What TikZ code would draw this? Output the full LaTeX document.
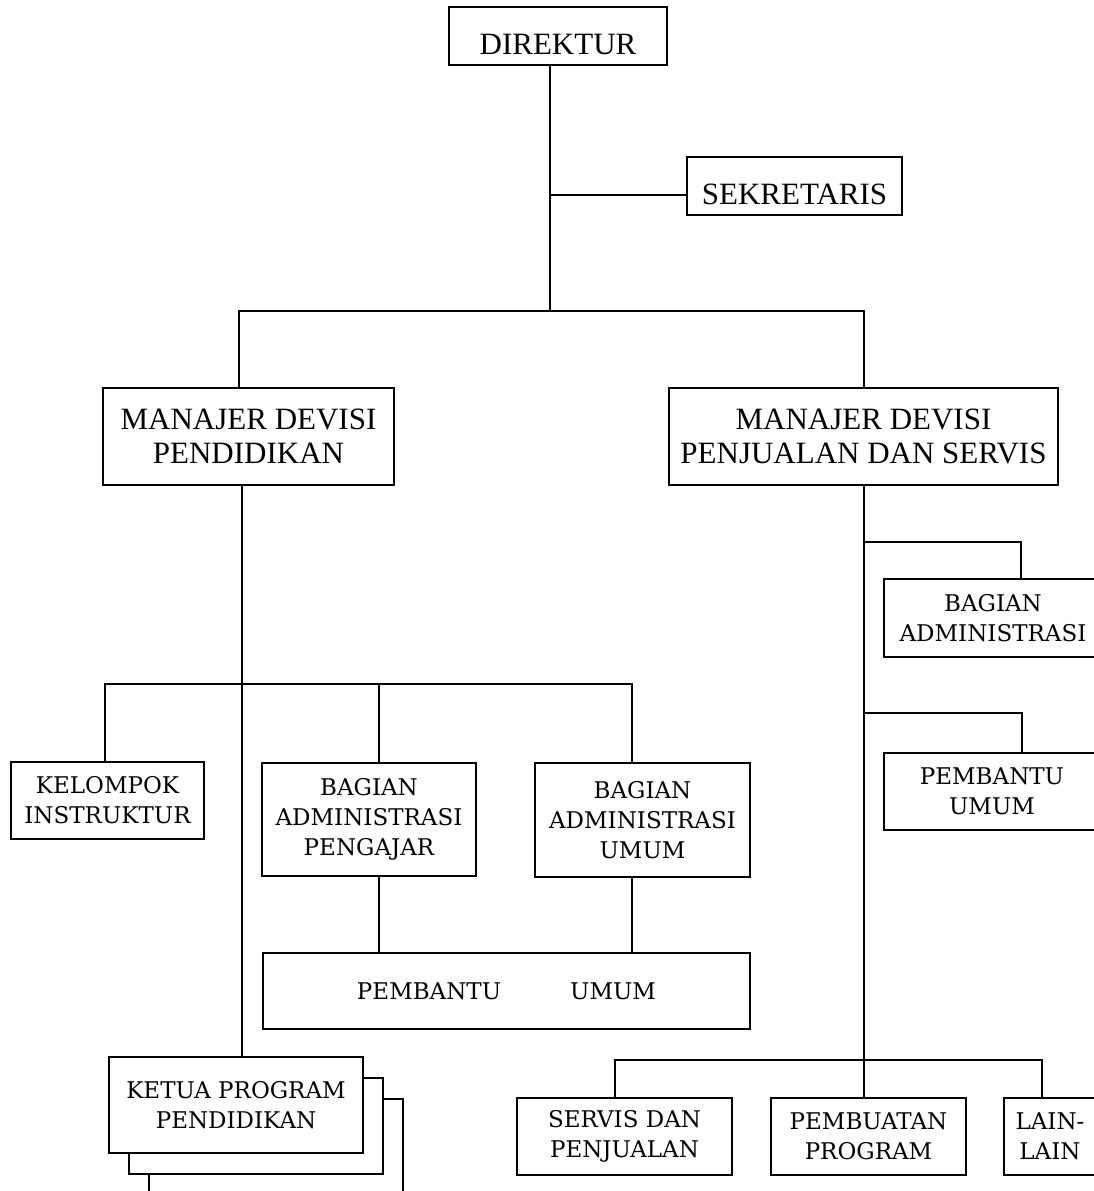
\documentclass[tikz,border=0pt]{standalone}
\usepackage{fontspec}
\setmainfont{Liberation Serif}
\newfontfamily\slabfont{DejaVu Serif}
\usetikzlibrary{shadows}
\begin{document}
\begin{tikzpicture}[x=1pt,y=-1pt,line width=1.3pt,
    kotak/.style={draw,fill=white,inner sep=0pt,align=center,
      font=\fontsize{31}{34}\selectfont},
    kotaktipis/.style={kotak,minimum height=58,text height=36pt,text depth=0pt},
    kotakkecil/.style={kotak,font=\slabfont\fontsize{23}{30}\selectfont}]
    \fill[white] (0,0) rectangle (1094,1191);
    \useasboundingbox (0,0) rectangle (1094,1191);
    % --- pimpinan ---
    \node[kotaktipis,minimum width=218] (dir) at (558,36) {DIREKTUR};
    \node[kotaktipis,minimum width=215] (sek) at (794.5,186) {SEKRETARIS};
    \node[kotak,minimum width=291,minimum height=97] (mdp) at (248.5,436.5) {MANAJER DEVISI\\PENDIDIKAN};
    \node[kotak,minimum width=389,minimum height=97] (mdps) at (863.5,436.5) {MANAJER DEVISI\\PENJUALAN DAN SERVIS};
    % --- devisi pendidikan ---
    \node[kotakkecil,minimum width=193,minimum height=77] (kel) at (107.5,800.5) {KELOMPOK\\INSTRUKTUR};
    \node[kotakkecil,minimum width=214,minimum height=113] (bap) at (369,819.5) {BAGIAN\\ADMINISTRASI\\PENGAJAR};
    \node[kotakkecil,minimum width=215,minimum height=114] (bau) at (642.5,820) {BAGIAN\\ADMINISTRASI\\UMUM};
    \node[kotakkecil,minimum width=487,minimum height=76] (pu) at (506.5,991) {PEMBANTU\hspace{69pt}UMUM};
    \node[kotakkecil,minimum width=254,minimum height=96,
      double copy shadow={shadow xshift=20pt,shadow yshift=-21pt,draw,line width=1.3pt}]
      (ketua) at (236,1105) {KETUA PROGRAM\\PENDIDIKAN};
    % --- devisi penjualan dan servis ---
    \node[kotakkecil,minimum width=218,minimum height=78] (badm) at (993,618) {BAGIAN\\ADMINISTRASI};
    \node[kotakkecil,minimum width=216,minimum height=77] (pum) at (992,791.5) {PEMBANTU\\UMUM};
    \node[kotakkecil,minimum width=215,minimum height=77] (svc) at (624.5,1136.5) {SERVIS DAN\\PENJUALAN};
    \node[kotakkecil,minimum width=195,minimum height=77] (pbp) at (868.5,1136.5) {PEMBUATAN\\PROGRAM};
    \node[kotakkecil,minimum width=92,minimum height=77] (lain) at (1050,1136.5) {LAIN-\\LAIN};
    % --- garis atas ---
    \coordinate (t1) at (550,311);
    \coordinate (tsek) at (550,195);
    \coordinate (tL) at (239,311);
    \coordinate (tR) at (864,311);
    \draw (dir.south -| t1) -- (t1);
    \draw (tsek) -- (tsek -| sek.west);
    \draw (mdp.north -| tL) -- (tL) -- (tR) -- (mdps.north -| tR);
    % --- garis kiri ---
    \coordinate (kx) at (242,0);
    \coordinate (b1) at (105,684);
    \coordinate (b2) at (379,684);
    \coordinate (b3) at (632,684);
    \draw (mdp.south -| kx) -- (ketua.north -| kx);
    \draw (kel.north -| b1) -- (b1) -- (b3) -- (bau.north -| b3);
    \draw (b2) -- (bap.north -| b2);
    \draw (bap.south -| b2) -- (pu.north -| b2);
    \draw (bau.south -| b3) -- (pu.north -| b3);
    % --- garis kanan ---
    \coordinate (s1) at (1021,542);
    \coordinate (s2) at (1022,713);
    \coordinate (c1) at (615,1060);
    \coordinate (c3) at (1042,1060);
    \draw (mdps.south -| tR) -- (c1 -| tR) -- (pbp.north -| tR);
    \draw (s1 -| tR) -- (s1) -- (badm.north -| s1);
    \draw (s2 -| tR) -- (s2) -- (pum.north -| s2);
    \draw (svc.north -| c1) -- (c1) -- (c3) -- (lain.north -| c3);
\end{tikzpicture}
\end{document}
